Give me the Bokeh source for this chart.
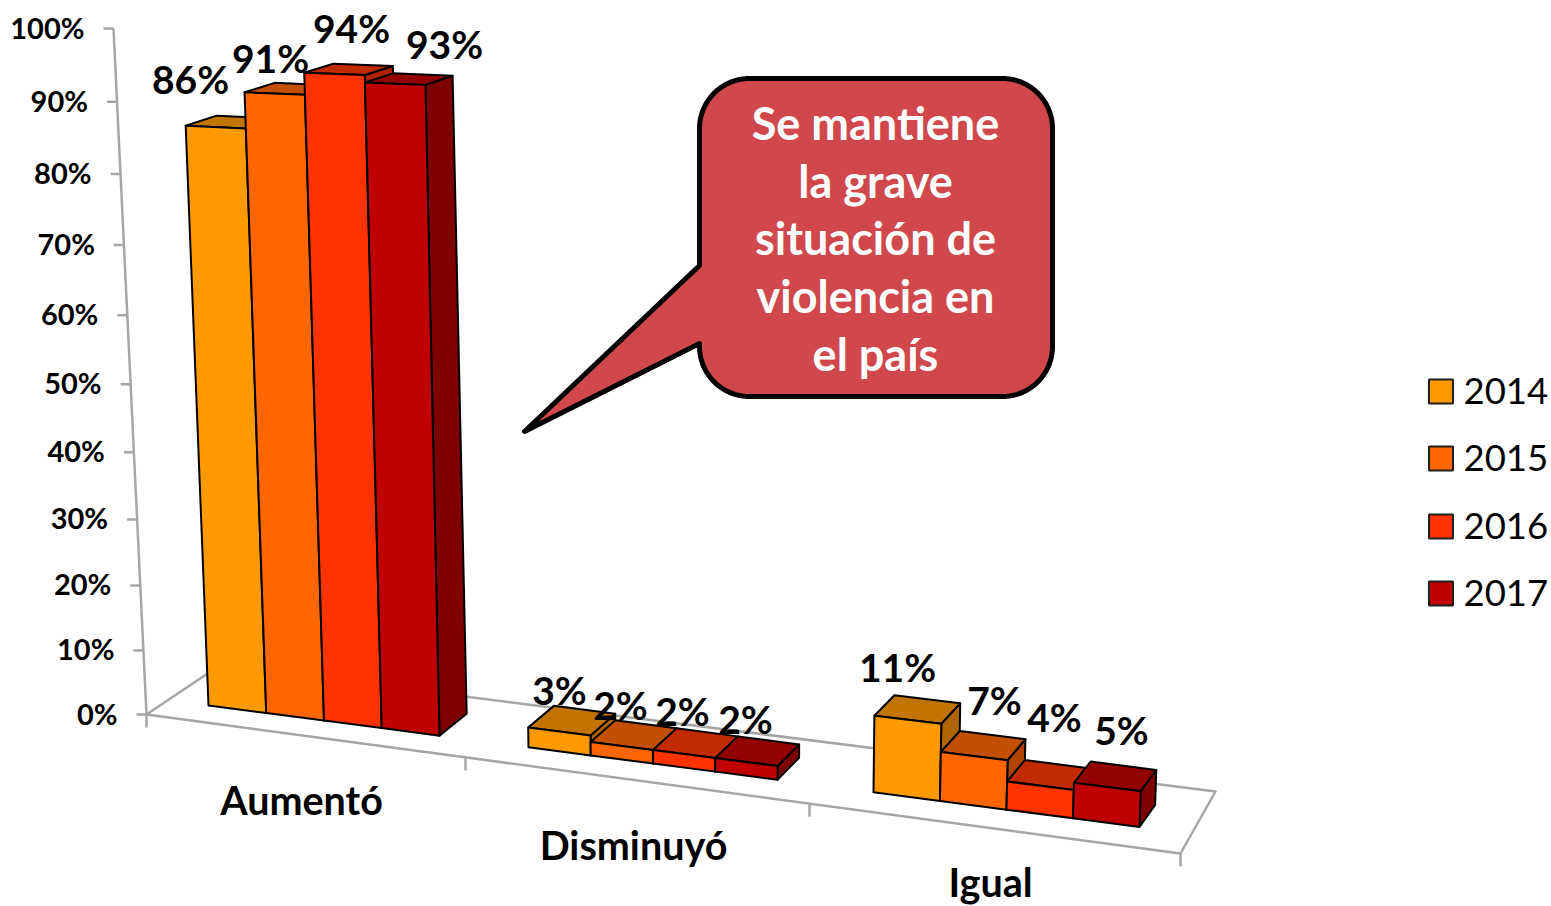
import numpy as np
from bokeh.plotting import figure
from bokeh.embed import file_html
from bokeh.resources import INLINE
from bokeh.core.properties import value

# ---- data ----
categories = ["Aumentó", "Disminuyó", "Igual"]
years = ["2014", "2015", "2016", "2017"]
v2014 = [86, 3, 11]
v2015 = [91, 2, 7]
v2016 = [94, 2, 4]
v2017 = [93, 2, 5]
y_tick_values = [0, 10, 20, 30, 40, 50, 60, 70, 80, 90, 100]
y_tick_labels = ["0%", "10%", "20%", "30%", "40%", "50%", "60%", "70%", "80%", "90%", "100%"]
callout_lines = ["Se mantiene", "la grave", "situación de", "violencia en", "el país"]

# ---- style ----
front_colors = ["#FF9900", "#FF6600", "#FF3300", "#C00000"]
top_colors = ["#C27400", "#C25000", "#C22B00", "#920000"]
side_colors = ["#AF6600", "#AF4400", "#AF2200", "#7F0000"]
GRAY = "#A6A6A6"
FONT = value("Lato")

# ---- layout of the oblique projection (page pixels) ----
group_start = [208, 528, 873]
bar_width = [57.75, 62.25, 66.5]
label_xy = [
    [(190, 78), (559, 689), (897, 666)],
    [(270, 57), (620, 704), (994, 699)],
    [(351, 27), (682, 710), (1054, 716)],
    [(444, 43), (745, 718), (1121, 729)],
]
cat_label_xy = [(301, 799), (633, 844), (990, 881)]


def H(v):
    return 6.349 * v + 0.00511 * v * v


def project(u, d, v):
    h = H(v) * (0.993 + (u - 208) * 1.4e-4)
    x = u - (720 - u) / 13000 * h
    y = 705 + 0.1305 * (u - 208) - h
    x += d * (32 - 0.0165 * (u - 146))
    y -= d * (22 - 13 * v / 94)
    return x, y


def face(*pts):
    return [p[0] for p in pts], [p[1] for p in pts]


p = figure(width=1551, height=906, x_range=(0, 1551), y_range=(906, 0),
           output_backend="svg", toolbar_location=None, min_border=0,
           outline_line_color=None, background_fill_color="white")
p.axis.visible = False
p.grid.visible = False

# floor
fx = [146, 1180, 1215, 219, 146]
fy = [714, 853, 791, 665, 714]
p.line(fx, fy, line_color=GRAY, line_width=2.5, line_join="round")

# value axis
ax_x = [146 - 33 / 686 * H(v) for v in y_tick_values]
ax_y = [714 - H(v) for v in y_tick_values]
p.line(ax_x, ax_y, line_color=GRAY, line_width=2.5)
p.segment([x - 10 for x in ax_x], ax_y, ax_x, ax_y, line_color=GRAY, line_width=2.5)
p.text([x - 29 for x in ax_x], [y - 1.5 for y in ax_y], text=y_tick_labels, text_font=FONT,
       text_font_style="bold", text_font_size="29px", text_align="right",
       text_baseline="middle", text_color="black")

# category ticks
cx = [146, 465, 809, 1180]
cy = [714 + 0.1344 * (x - 146) for x in cx]
p.segment(cx, cy, cx, [y + 13 for y in cy], line_color=GRAY, line_width=2.5)

# bars, painted left to right
series = [v2014, v2015, v2016, v2017]
xs, ys, fills = [], [], []
for g in range(len(categories)):
    for s in range(len(years)):
        v = series[s][g]
        u0 = group_start[g] + s * bar_width[g]
        u1 = u0 + bar_width[g]
        A, B = project(u0, 0, 0), project(u1, 0, 0)
        C, D = project(u1, 0, v), project(u0, 0, v)
        E, F = project(u0, 1, v), project(u1, 1, v)
        G = project(u1, 1, 0)
        for pts, col in (((B, G, F, C), side_colors[s]),
                         ((D, C, F, E), top_colors[s]),
                         ((A, B, C, D), front_colors[s])):
            fa = face(*pts)
            xs.append(fa[0]); ys.append(fa[1]); fills.append(col)
p.patches(xs, ys, fill_color=fills, line_color="black", line_width=2, line_join="round")

# data labels
for s in range(len(years)):
    for g in range(len(categories)):
        x, y = label_xy[s][g]
        p.text([x], [y], text=[f"{series[s][g]}%"], text_font=FONT, text_font_style="bold",
               text_font_size="39px", text_align="center", text_baseline="middle",
               text_color="black")

# category labels
p.text([c[0] for c in cat_label_xy], [c[1] for c in cat_label_xy], text=categories,
       text_font=FONT, text_font_style="bold", text_font_size="39.5px", text_align="center",
       text_baseline="middle", text_color="black")

# callout
L, R, T, B_, r = 699, 1052, 78, 396, 50


def arc(cx_, cy_, a0, a1):
    t = np.radians(np.linspace(a0, a1, 24))
    return list(cx_ + r * np.cos(t)), list(cy_ + r * np.sin(t))


ox, oy = [], []
for seg in (arc(L + r, T + r, 180, 270), arc(R - r, T + r, 270, 360),
            arc(R - r, B_ - r, 0, 90), arc(L + r, B_ - r, 90, 180)):
    ox += seg[0]; oy += seg[1]
ox += [L, 524, L]
oy += [343, 431, 265]
p.patch(ox, oy, fill_color="#D0484B", line_color="black", line_width=5, line_join="round")
p.text([875] * 5, [122, 180, 237, 295, 353], text=callout_lines, text_font=FONT,
       text_font_style="bold", text_font_size="45px", text_align="center",
       text_baseline="middle", text_color="white")

# legend
ly = [391, 458, 526, 593]
p.rect([1440.5] * 4, ly, width=24, height=24, fill_color=front_colors, line_color="#202020",
       line_width=2)
p.text([1463] * 4, [y - 1 for y in ly], text=years, text_font=FONT, text_font_size="36.5px",
       text_align="left", text_baseline="middle", text_color="black")

open("out.html", "w").write(file_html(p, INLINE))
